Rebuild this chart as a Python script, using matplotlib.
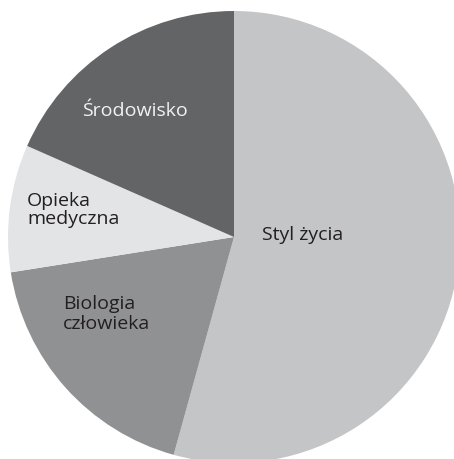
import matplotlib
matplotlib.use('Agg')
import matplotlib.pyplot as plt

# dane
labels = ['Styl życia', 'Biologia\nczłowieka', 'Opieka\nmedyczna', 'Środowisko']
values = [54.3, 18.2, 9.1, 18.4]
colors = ['#c4c5c7', '#909193', '#e3e4e6', '#636466']

plt.rcParams['font.family'] = ['Open Sans', 'DejaVu Sans']

W, H = 454, 459
cx, cy, r = 234, 237, 226  # środek i promień koła w pikselach

fig = plt.figure(figsize=(W / 100, H / 100), dpi=100)
ax = fig.add_axes([(cx - r) / W, (H - cy - r) / H, 2 * r / W, 2 * r / H])
wedges, _ = ax.pie(values, colors=colors, startangle=90, counterclock=False,
                   radius=1, wedgeprops={'linewidth': 0})
for w in wedges:
    w.set_clip_on(False)
ax.set_xlim(-1, 1)
ax.set_ylim(-1, 1)
ax.axis('off')


def px(x, y):
    return (x - cx) / r, (cy - y) / r


# etykiety
fs = 14
ax.text(*px(262, 235), labels[0], ha='left', va='center', fontsize=fs, color='#231f20')
ax.text(*px(63, 314), labels[1], ha='left', va='center', fontsize=fs, color='#231f20',
        linespacing=1.1)
ax.text(*px(27, 210), labels[2], ha='left', va='center', fontsize=fs, color='#231f20',
        linespacing=1.05)
ax.text(*px(135, 111), labels[3], ha='center', va='center', fontsize=fs, color='#f2f2f2')

fig.savefig('out.png', dpi=100)
